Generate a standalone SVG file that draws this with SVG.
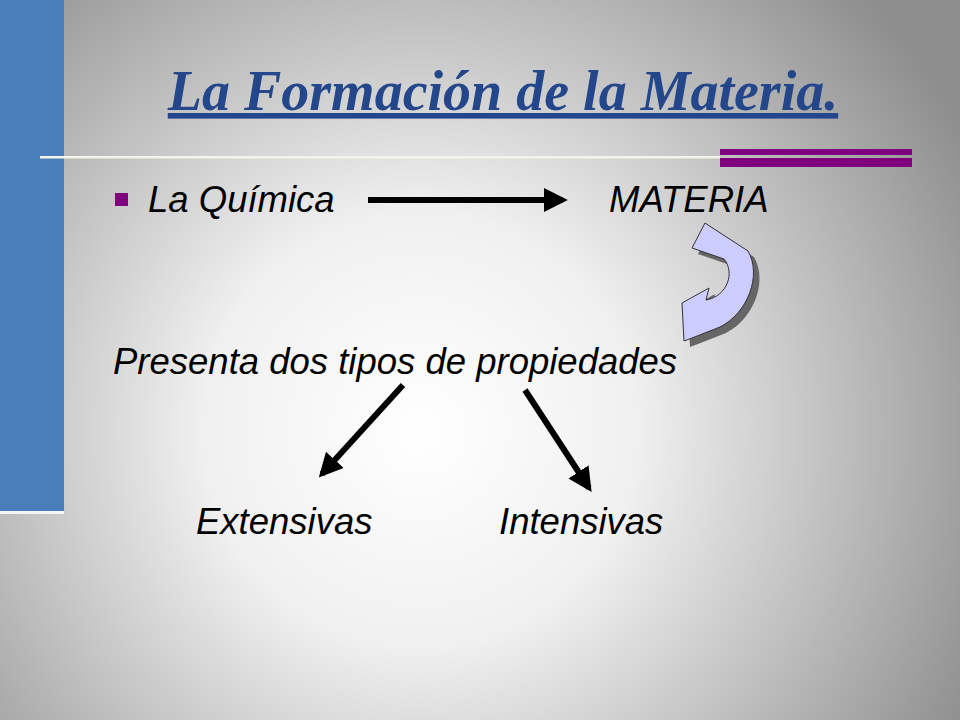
<svg xmlns="http://www.w3.org/2000/svg" width="960" height="720" viewBox="0 0 960 720">
<defs>
<radialGradient id="bg" cx="420" cy="430" r="620" gradientUnits="userSpaceOnUse">
<stop offset="0" stop-color="#ffffff"/><stop offset="0.35" stop-color="#f0f0f0"/><stop offset="1" stop-color="#8e8e8e"/>
</radialGradient>
<marker id="ah" viewBox="0 0 10 10" refX="8" refY="5" markerWidth="4" markerHeight="4" orient="auto" markerUnits="strokeWidth"><path d="M0,0 L10,5 L0,10 Z" fill="#000"/></marker>
<style>
.t{font-family:"Liberation Sans",Arial,sans-serif;font-style:italic;font-size:36.5px;fill:#000}
.c{stroke:#000;stroke-width:6;fill:none;marker-end:url(#ah)}
</style>
</defs>
<rect width="960" height="720" fill="url(#bg)"/>
<rect x="0" y="0" width="64" height="512" fill="#4a7ebb"/>
<rect x="0" y="511" width="64" height="3" fill="#f4f4f0"/>
<rect x="40" y="156" width="680" height="2.5" fill="#f4f4ec"/>
<rect x="720" y="149" width="192" height="6" fill="#800080"/>
<rect x="720" y="158" width="192" height="9" fill="#800080"/>
<g id="title"><text x="503" y="110" text-anchor="middle" font-family="Liberation Serif,Times New Roman,serif" font-weight="bold" font-style="italic" font-size="56" fill="#24478c" text-decoration="underline">La Formación de la Materia.</text></g>
<g id="quimica"><rect x="115" y="193" width="13" height="13" fill="#800080"/><text class="t" x="148" y="212">La Química</text></g>
<g id="materia"><text class="t" x="609" y="212">MATERIA</text></g>
<g id="presenta"><text class="t" x="113" y="374">Presenta dos tipos de propiedades</text></g>
<g id="extensivas"><text class="t" x="196" y="534">Extensivas</text></g>
<g id="intensivas"><text class="t" x="499" y="534">Intensivas</text></g>
<g id="connectors">
<line class="c" x1="368" y1="200" x2="563" y2="200"/>
<line class="c" x1="403" y1="385" x2="322" y2="474"/>
<line class="c" x1="525" y1="390" x2="589" y2="488"/>
<g id="curved">
<path transform="translate(6,6)" d="M705,223 L748,251 C762,275 748,313 720,327 L692,338 L684,341 L682,303 L709,288 L706,300 C728,296 735,272 724,259 L692,248 Z" fill="#666"/>
<path d="M705,223 L748,251 C762,275 748,313 720,327 L692,338 L684,341 L682,303 L709,288 L706,300 C728,296 735,272 724,259 L692,248 Z" fill="#ccccff" stroke="#333" stroke-width="1"/>
</g>
</g>
</svg>
